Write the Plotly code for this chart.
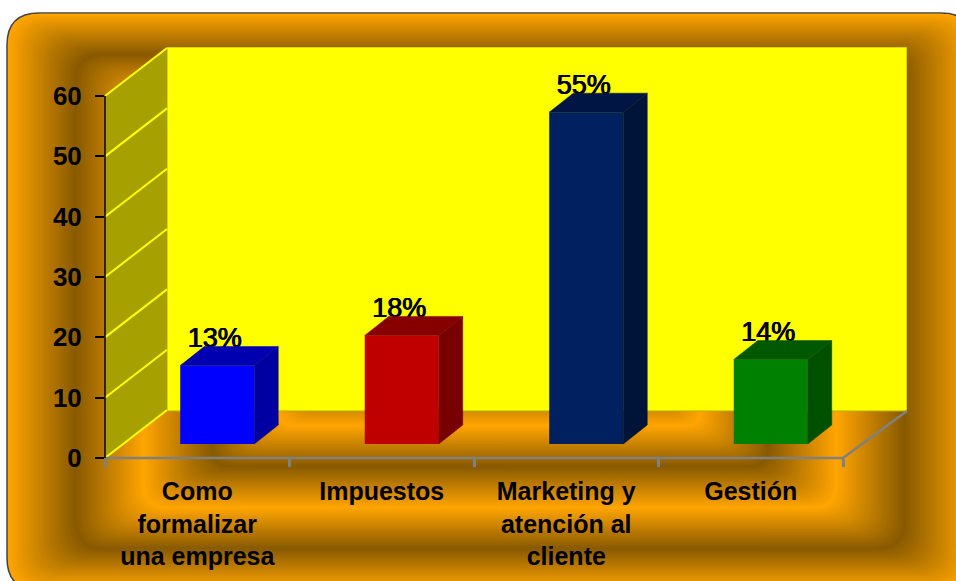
import plotly.graph_objects as go

categories = ["Como<br>formalizar<br>una empresa", "Impuestos", "Marketing y<br>atención al<br>cliente", "Gestión"]
values = [13, 18, 55, 14]
y_ticks = [0, 10, 20, 30, 40, 50, 60]
front_colors = ["#0000FF", "#C00000", "#002060", "#008000"]
top_colors = ["#0000B0", "#860000", "#001543", "#005800"]
side_colors = ["#0000A0", "#780000", "#001339", "#005000"]

W, H = 956, 581
L, R, T, B = 105, 907, 47, 458      # plot area in pixels
CAT_PX = 184.5                      # pixels per category
VAL_PX = 6.033                      # pixels per value unit
XMAX = (R - L) / CAT_PX
YMAX = (B - T) / VAL_PX
N_CAT = len(categories)


def ux(px):
    return px / CAT_PX


def uy(px):
    return px / VAL_PX


WALL_DX, WALL_DY = ux(62), uy(47)
BAR_OFF_X, BAR_BASE = ux(20), uy(14)
BAR_W = ux(74)
BAR_DX, BAR_DY = ux(24), uy(19)
LABEL_UP = uy(25)
LABEL_SHIFT = ux(-2.5)


def X(px):
    return (px - L) / (R - L)


def Y(py):
    return (B - py) / (B - T)


def rrect(x0, y0, x1, y1, r):
    return (
        f"M {X(x0 + r)} {Y(y0)} L {X(x1 - r)} {Y(y0)} Q {X(x1)} {Y(y0)} {X(x1)} {Y(y0 + r)} "
        f"L {X(x1)} {Y(y1 - r)} Q {X(x1)} {Y(y1)} {X(x1 - r)} {Y(y1)} "
        f"L {X(x0 + r)} {Y(y1)} Q {X(x0)} {Y(y1)} {X(x0)} {Y(y1 - r)} "
        f"L {X(x0)} {Y(y0 + r)} Q {X(x0)} {Y(y0)} {X(x0 + r)} {Y(y0)} Z"
    )


# background: rectangular banded gradient, nested rounded rectangles
BX0, BY0, BX1, BY1 = 7, 13, 973, 590
WX, WY = 68.0, 41.0
LIGHT, DARK = (255, 165, 0), (136, 90, 0)
shapes = []
STEP = 0.02
n = int(5.2 / STEP)
for i in range(n):
    t = i * STEP
    f = t % 2
    f = f if f <= 1 else 2 - f
    c = tuple(round(a + (b - a) * f) for a, b in zip(LIGHT, DARK))
    r = max(32 - 4 * t, 14)
    shapes.append(dict(
        type="path", xref="paper", yref="paper", layer="below",
        path=rrect(BX0 + t * WX, BY0 + t * WY, BX1 - t * WX, BY1 - t * WY, r),
        fillcolor=f"rgb{c}",
        line=dict(width=1.5, color="#444444") if i == 0 else dict(width=0),
    ))

# back wall and left wall
shapes.append(dict(type="rect", xref="x", yref="y", layer="below",
                   x0=WALL_DX, x1=XMAX, y0=WALL_DY, y1=YMAX,
                   fillcolor="#FFFF00", line=dict(width=1, color="#B5AE00")))
shapes.append(dict(type="path", xref="x", yref="y", layer="below",
                   path=f"M 0 0 L {WALL_DX} {WALL_DY} L {WALL_DX} {YMAX} L 0 60 Z",
                   fillcolor="#A6A000", line=dict(width=0)))
for v in y_ticks:
    shapes.append(dict(type="line", xref="x", yref="y", layer="below",
                       x0=0, y0=v, x1=WALL_DX, y1=v + uy(48),
                       line=dict(color="#FFFF00", width=2)))

# axis lines: paper-referenced so they are not clipped at the plot edge
shapes.append(dict(type="path", xref="paper", yref="paper", layer="above",
                   path=f"M 0 0 L {N_CAT / XMAX} 0 L 1 {WALL_DY / YMAX}",
                   line=dict(color="#808080", width=2.5)))
shapes.append(dict(type="line", xref="paper", yref="paper", layer="above",
                   x0=0, x1=0, y0=0, y1=60 / YMAX,
                   line=dict(color="black", width=1.5)))

fig = go.Figure()
centers = [i + 0.5 + BAR_OFF_X for i in range(len(values))]
fig.add_trace(go.Bar(x=centers, y=values, base=BAR_BASE, width=BAR_W,
                     marker=dict(color=front_colors, line=dict(width=0))))
fig.add_trace(go.Scatter(
    x=[c + LABEL_SHIFT for c in centers],
    y=[v + BAR_BASE + LABEL_UP for v in values],
    mode="text", text=[f"{v}%" for v in values], textposition="middle center",
    textfont=dict(family="Liberation Sans", size=27, color="black",
                  shadow="0.5px 0 0 #000, -0.5px 0 0 #000"),
))
for c, v, tc, sc in zip(centers, values, top_colors, side_colors):
    x0, x1 = c - BAR_W / 2, c + BAR_W / 2
    top = BAR_BASE + v
    fig.add_trace(go.Scatter(
        x=[x0, x1, x1 + BAR_DX, x0 + BAR_DX, x0],
        y=[top, top, top + BAR_DY, top + BAR_DY, top],
        mode="lines", fill="toself", fillcolor=tc, line=dict(width=0.5, color=tc)))
    fig.add_trace(go.Scatter(
        x=[x1, x1 + BAR_DX, x1 + BAR_DX, x1, x1],
        y=[BAR_BASE, BAR_BASE + BAR_DY, top + BAR_DY, top, BAR_BASE],
        mode="lines", fill="toself", fillcolor=sc, line=dict(width=0.5, color=sc)))

fig.update_layout(
    width=W, height=H, margin=dict(l=L, r=W - R, t=T, b=H - B),
    paper_bgcolor="white", plot_bgcolor="rgba(0,0,0,0)",
    showlegend=False, hovermode=False, shapes=shapes, barmode="overlay",
    xaxis=dict(range=[0, XMAX], showgrid=False, zeroline=False, showline=False, automargin=False,
               tickmode="array", tickvals=[i + 0.5 for i in range(N_CAT)],
               ticktext=[f"<b>{c.replace('<br>', '</b><br><b>')}</b>" for c in categories],
               ticks="", ticklabelstandoff=16, tickangle=0,
               tickfont=dict(family="Liberation Sans", size=25, color="black"),
               minor=dict(tickmode="array", tickvals=list(range(N_CAT + 1)), ticks="outside",
                          ticklen=8, tickwidth=3, tickcolor="#808080", showgrid=False)),
    yaxis=dict(range=[0, YMAX], showgrid=False, zeroline=False, showline=False, automargin=False,
               tickmode="array", tickvals=y_ticks,
               ticktext=[f"<b>{v}</b>" for v in y_ticks],
               ticks="outside", ticklen=9, tickwidth=1.5, tickcolor="black",
               ticklabelstandoff=8,
               tickfont=dict(family="Liberation Sans", size=26, color="black")),
)
fig.write_html("out.html", config={"displayModeBar": False},
               post_script="document.body.style.margin='0';document.body.style.overflow='hidden';")
